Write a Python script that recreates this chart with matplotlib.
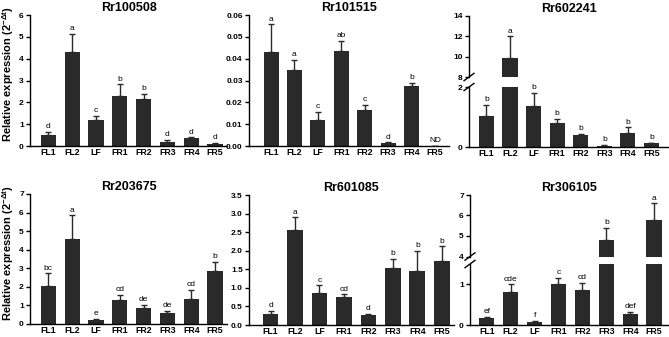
import matplotlib
matplotlib.use("Agg")
import matplotlib.pyplot as plt
import numpy as np

plt.rcParams['font.family'] = ['Liberation Sans', 'DejaVu Sans']
plt.rcParams['mathtext.default'] = 'regular'

tissues = ["FL1", "FL2", "LF", "FR1", "FR2", "FR3", "FR4", "FR5"]

# Rr100508
rr100508_mean = [0.49, 4.29, 1.18, 2.30, 2.14, 0.20, 0.37, 0.10]
rr100508_err = [0.15, 0.84, 0.20, 0.52, 0.26, 0.09, 0.03, 0.04]
rr100508_sig = ["d", "a", "c", "b", "b", "d", "d", "d"]

# Rr101515
rr101515_mean = [0.0431, 0.0350, 0.0120, 0.0434, 0.0164, 0.0012, 0.0276, 0.0]
rr101515_err = [0.0127, 0.0046, 0.0038, 0.0049, 0.0026, 0.0005, 0.0014, 0.0]
rr101515_sig = ["a", "a", "c", "ab", "c", "d", "b", "ND"]

# Rr602241 (broken axis)
rr602241_mean = [1.03, 9.90, 1.37, 0.81, 0.39, 0.05, 0.48, 0.13]
rr602241_err = [0.37, 2.10, 0.43, 0.14, 0.06, 0.02, 0.18, 0.02]
rr602241_sig = ["b", "a", "b", "b", "b", "b", "b", "b"]

# Rr203675
rr203675_mean = [2.07, 4.57, 0.20, 1.28, 0.88, 0.61, 1.37, 2.88]
rr203675_err = [0.65, 1.28, 0.09, 0.28, 0.16, 0.11, 0.46, 0.45]
rr203675_sig = ["bc", "a", "e", "cd", "de", "de", "cd", "b"]

# Rr601085
rr601085_mean = [0.30, 2.55, 0.875, 0.75, 0.27, 1.53, 1.46, 1.71]
rr601085_err = [0.075, 0.35, 0.195, 0.08, 0.025, 0.26, 0.54, 0.41]
rr601085_sig = ["d", "a", "c", "cd", "d", "b", "b", "b"]

# Rr306105 (broken axis)
rr306105_mean = [0.16, 0.82, 0.08, 1.02, 0.85, 4.79, 0.28, 5.78]
rr306105_err = [0.04, 0.18, 0.03, 0.14, 0.18, 0.62, 0.05, 0.81]
rr306105_sig = ["ef", "cde", "f", "c", "cd", "b", "def", "a"]

W, H = 669, 337
BAR = "#2a2a2a"
YLABEL = r"Relative expression (2$^{-\Delta t}$)"


def fr(x0, y0, x1, y1):
    # pixel box -> figure fraction rect
    return [x0 / W, 1 - y1 / H, (x1 - x0) / W, (y1 - y0) / H]


def style(ax, xlim, xlabels=True):
    for s in ["top", "right"]:
        ax.spines[s].set_visible(False)
    ax.spines["left"].set_linewidth(1.0)
    ax.spines["bottom"].set_linewidth(1.0)
    ax.tick_params(axis="y", length=3, width=1, labelsize=6, pad=1.5)
    ax.tick_params(axis="x", length=0, labelsize=6.3, pad=1.5)
    for lab in ax.get_yticklabels() + ax.get_xticklabels():
        lab.set_fontweight("bold")
    ax.set_xlim(*xlim)
    ax.set_xticks(range(len(tissues)))
    if xlabels:
        ax.set_xticklabels(tissues, fontweight="bold")
    else:
        ax.set_xticklabels([])


def bars(ax, mean, err):
    x = np.arange(len(tissues))
    ax.bar(x, mean, width=0.64, color=BAR, zorder=2)
    e = np.array(err)
    ax.errorbar(x, mean, yerr=[np.zeros_like(e), e], fmt="none", ecolor=BAR,
                elinewidth=1, capsize=2.5, capthick=1, zorder=1)


def letters(ax, mean, err, sig, lo, hi):
    for i, (m, e, s) in enumerate(zip(mean, err, sig)):
        top = m + e
        if lo <= top <= hi:
            ax.annotate(s, (i, top), xytext=(0, 1.2), textcoords="offset points",
                        ha="center", va="bottom", fontsize=6)


def simple(rect, xlim, mean, err, sig, title, ymax, step, fmt, ylabel=False):
    ax = fig.add_axes(rect)
    bars(ax, mean, err)
    ax.set_ylim(0, ymax)
    ticks = np.arange(0, ymax + step / 2, step)
    ax.set_yticks(ticks)
    ax.set_yticklabels([fmt % t for t in ticks])
    style(ax, xlim)
    letters(ax, mean, err, sig, -1, 1e9)
    ax.set_title(title, fontsize=9, fontweight="bold", pad=3)
    if ylabel:
        ax.set_ylabel(YLABEL, fontsize=8, fontweight="bold")
        ax.yaxis.set_label_coords(-0.07, 0.545)
    return ax


def broken(rect_top, rect_bot, xlim, mean, err, sig, title, top_lim,
           top_ticks, bot_lim, bot_ticks):
    axt = fig.add_axes(rect_top)
    axb = fig.add_axes(rect_bot)
    for ax, lim, ticks in [(axt, top_lim, top_ticks), (axb, bot_lim, bot_ticks)]:
        bars(ax, mean, err)
        ax.set_ylim(*lim)
        ax.set_yticks(ticks)
        ax.set_yticklabels([str(t) for t in ticks])
    style(axt, xlim, xlabels=False)
    axt.spines["bottom"].set_visible(False)
    style(axb, xlim)
    letters(axt, mean, err, sig, top_lim[0], top_lim[1])
    letters(axb, mean, err, sig, -1, bot_lim[1])
    axt.set_title(title, fontsize=9, fontweight="bold", pad=3)
    # break marks on the left spine
    for ax, y in [(axt, 0.0), (axb, 1.0)]:
        ax.plot([-0.025, 0.025], [y - 0.06, y + 0.06], transform=ax.transAxes,
                color="black", lw=1, clip_on=False)
    return axt, axb


fig = plt.figure(figsize=(W / 100, H / 100), dpi=100)

simple(fr(30, 15, 227, 146), (-0.77, 7.5), rr100508_mean, rr100508_err,
       rr100508_sig, "Rr100508", 6, 1, "%d", ylabel=True)
simple(fr(249, 15, 449, 146), (-0.94, 7.6), rr101515_mean, rr101515_err,
       rr101515_sig, "Rr101515", 0.06, 0.01, "%.2f")
broken(fr(469, 16, 668, 77), fr(469, 87, 668, 147), (-0.74, 7.7),
       rr602241_mean, rr602241_err, rr602241_sig, "Rr602241",
       (8, 14), [8, 10, 12, 14], (0, 2), [0, 2])

simple(fr(30, 194, 227, 324), (-0.77, 7.5), rr203675_mean, rr203675_err,
       rr203675_sig, "Rr203675", 7, 1, "%d", ylabel=True)
simple(fr(249, 195, 454, 325), (-0.88, 7.5), rr601085_mean, rr601085_err,
       rr601085_sig, "Rr601085", 3.5, 0.5, "%.1f")
broken(fr(470, 195, 668, 256.5), fr(470, 264, 668, 325), (-0.7, 7.58),
       rr306105_mean, rr306105_err, rr306105_sig, "Rr306105",
       (4, 7), [4, 5, 6, 7], (0, 1.5), [0, 1])

fig.savefig("out.png", dpi=100)
